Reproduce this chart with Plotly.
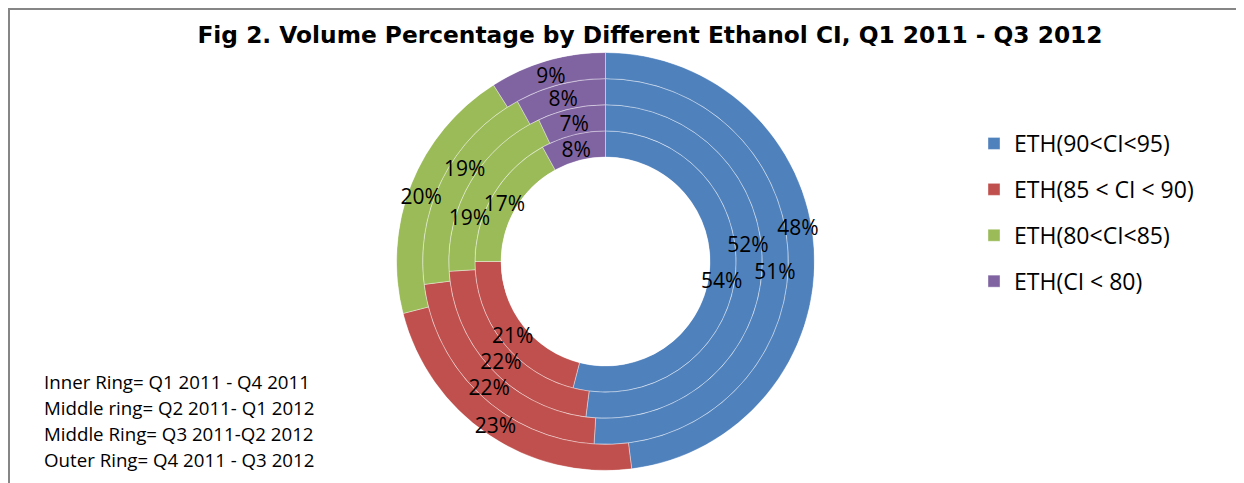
import math
import plotly.graph_objects as go

# ---- data ----
categories = ["ETH(90<CI<95)", "ETH(85 < CI < 90)", "ETH(80<CI<85)", "ETH(CI < 80)"]
ring_names = ["Inner Ring= Q1 2011 - Q4 2011",
              "Middle ring= Q2 2011- Q1 2012",
              "Middle Ring= Q3 2011-Q2 2012",
              "Outer Ring= Q4 2011 - Q3 2012"]
inner_ring = [54, 21, 17, 8]
middle_ring_1 = [52, 22, 19, 7]
middle_ring_2 = [51, 22, 19, 8]
outer_ring = [48, 23, 20, 9]
title_text = "Fig 2. Volume Percentage by Different Ethanol CI, Q1 2011 - Q3 2012"

# ---- style ----
colors = ["#4F81BD", "#C0504D", "#9BBB59", "#8064A2"]
FONT = "Open Sans"
# manual label nudges (degrees), as the labels were moved in the original
label_nudge = {(1, 0): -11, (2, 0): 1, (3, 0): -7, (0, 0): 1,
               (1, 2): -12, (2, 2): 7, (3, 2): -1.7}
TEXT_DROP_PX = 4  # shift labels down a little to centre the glyphs

rings = [inner_ring, middle_ring_1, middle_ring_2, outer_ring]

# page body adds an 8px offset; figure coordinates below are window - 8
W, H = 1236, 475
cx, cy, R = 597.5, 253.5, 209
HOLE = 0.5
ring_px = R * (1 - HOLE) / len(rings)

# per-ring angular layout
mids = []
widths = []
for vals in rings:
    tot = sum(vals)
    cum = 0
    m, w = [], []
    for v in vals:
        m.append((cum + v / 2) / tot * 360)
        w.append(v / tot * 360)
        cum += v
    mids.append(m)
    widths.append(w)

fig = go.Figure()
for ci, cat in enumerate(categories):
    fig.add_trace(go.Barpolar(
        name=cat,
        theta=[mids[ri][ci] for ri in range(len(rings))],
        width=[widths[ri][ci] for ri in range(len(rings))],
        r=[1] * len(rings),
        base=list(range(len(rings))),
        marker=dict(color=colors[ci], line=dict(color="rgba(255,255,255,0.42)", width=0.9)),
        legendgroup=cat,
        hoverinfo="name",
    ))

lab_r, lab_t, lab_s = [], [], []
for ri, vals in enumerate(rings):
    for ci, v in enumerate(vals):
        rr = ri + 0.5
        th = mids[ri][ci] + label_nudge.get((ri, ci), 0)
        rad = math.radians(th)
        r_px = R * HOLE + rr * ring_px
        dr_px = -TEXT_DROP_PX * math.cos(rad)
        dt_px = TEXT_DROP_PX * math.sin(rad)
        lab_r.append(rr + dr_px / ring_px)
        lab_t.append(th + math.degrees(dt_px / r_px))
        lab_s.append(f"{v}%")
fig.add_trace(go.Scatterpolar(
    r=lab_r, theta=lab_t, text=lab_s, mode="text",
    textfont=dict(family=FONT, size=21, color="black"),
    showlegend=False, hoverinfo="skip",
))

fig.update_layout(
    width=W, height=H,
    margin=dict(l=0, r=0, t=0, b=0),
    paper_bgcolor="white",
    font=dict(family=FONT, color="black"),
    polar=dict(
        domain=dict(x=[(cx - R) / W, (cx + R) / W],
                    y=[(H - cy - R) / H, (H - cy + R) / H]),
        hole=HOLE,
        bgcolor="rgba(0,0,0,0)",
        barmode="overlay",
        radialaxis=dict(range=[0, len(rings)], visible=False, showgrid=False),
        angularaxis=dict(rotation=90, direction="clockwise", visible=False, showgrid=False),
    ),
    title=dict(text=title_text, x=642 / W, xanchor="center", y=1 - 27 / H, yanchor="middle",
               font=dict(family="DejaVu Sans", size=23.3, color="black", weight="bold")),
    legend=dict(x=966 / W, xanchor="left", y=1 - 114 / H, yanchor="top",
                font=dict(family=FONT, size=23, color="black"),
                traceorder="grouped", tracegroupgap=13, bgcolor="rgba(0,0,0,0)"),
    showlegend=True,
)

for i, txt in enumerate(ring_names):
    fig.add_annotation(text=txt, xref="paper", yref="paper", x=34 / W, xanchor="left",
                       y=1 - (373 + 26 * i) / H, yanchor="middle", showarrow=False,
                       font=dict(family=FONT, size=18.7, color="black"), align="left")

fig.add_shape(type="rect", xref="paper", yref="paper",
              x0=1 / W, x1=1234 / W, y0=-0.05, y1=1 - 1 / H,
              line=dict(color="#868686", width=2), fillcolor="rgba(0,0,0,0)")

fig.write_html("out.html")
